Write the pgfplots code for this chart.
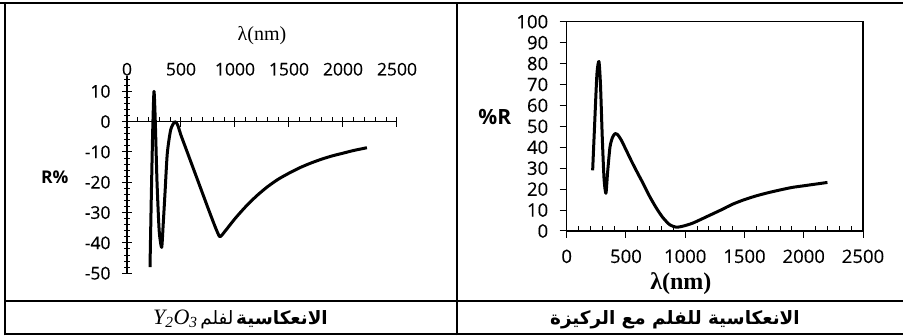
\documentclass[border=0pt]{standalone}
\usepackage{pgfplots}
\pgfplotsset{compat=1.18}
\usepackage{fontspec}
\setmainfont{Open Sans}
\newfontfamily\tnr{Liberation Serif}
\newfontfamily\arabicfont[Script=Arabic]{DejaVu Sans}
\newfontfamily\tickfam{Open Sans}[FakeBold=0.3]
\TeXXeTstate=1
\newcommand{\tickfont}{\tickfam\fontsize{17.5}{18}\selectfont}
\newcommand{\tickfontR}{\tickfam\fontsize{18.5}{19}\selectfont}
\begin{document}
\begin{tikzpicture}
\path[use as bounding box] (0pt,0pt) rectangle (903pt,336pt);
% table frame
\draw[line width=2pt] (0pt,333.3pt) -- (903pt,333.3pt);
\draw[line width=2pt] (5pt,0.5pt) -- (5pt,334.3pt);
\draw[line width=2pt] (457pt,0.5pt) -- (457pt,334.3pt);
\draw[line width=2pt] (4pt,35pt) -- (903pt,35pt);
\draw[line width=2pt] (4pt,1.5pt) -- (903pt,1.5pt);

% ---------- left chart: labels on top ----------
\begin{axis}[at={(127pt,62.8pt)}, anchor=south west, scale only axis,
  width=270pt, height=197pt, xmin=0, xmax=2500, ymin=-50, ymax=15,
  axis x line*=top, axis y line=none, x axis line style={draw=none},
  xtick={0,500,...,2500}, major tick length=0pt,
  xticklabel style={font=\tickfont, /pgf/number format/1000 sep={}},
  /pgf/number format/assume math mode=true,
  xticklabel shift=-3pt,
  xlabel={{\tnr λ(nm)}}, xlabel style={font=\fontsize{20}{22}\selectfont, yshift=11pt}]
\end{axis}

% ---------- left chart: lines and curve ----------
\begin{axis}[at={(127pt,62.8pt)}, anchor=south west, scale only axis,
  width=270pt, height=197pt, xmin=0, xmax=2500, ymin=-50, ymax=15,
  axis x line=middle, axis y line=left, axis line style={-, line width=1.3pt},
  hide obscured x ticks=false, hide obscured y ticks=false,
  xtick={0,500,...,2500}, xticklabels={,,,,,}, minor x tick num=4,
  ytick={-50,-40,...,10}, minor ytick={-50,-48,...,14},
  tick align=center, major tick length=10pt, minor tick length=5pt,
  minor x tick style={yshift=2.5pt},
  tick style={black, line width=1pt},
  yticklabel style={font=\tickfont}, yticklabel shift=8pt,
  /pgf/number format/assume math mode=true,
  ylabel={\bfseries R\%},
  every axis y label/.style={at={(rel axis cs:0,0.488)}, anchor=east, xshift=-55pt, font=\fontsize{17.5}{18}\selectfont},
  clip=false]
\addplot[black, line width=3pt, smooth, tension=0.4, line join=round] coordinates {
(213,-48) (225,-25) (238,-3) (250,10) (262,0) (278,-20) (298,-36) (321,-41.5)
(335,-34) (352,-23.5) (373,-10.5) (405,-2.6) (444,0) (470,-1.2)
(500,-4.5) (550,-9.3) (600,-14.1) (650,-18.9) (700,-23.7) (750,-28.5) (800,-33.2)
(835,-36.3) (861,-38) (900,-36.5) (1000,-32) (1100,-28) (1200,-24.5)
(1300,-21.5) (1400,-19) (1500,-17) (1600,-15.2) (1700,-13.7) (1800,-12.4)
(1900,-11.3) (2000,-10.4) (2100,-9.5) (2222,-8.6)
};
\end{axis}

% ---------- right chart ----------
\begin{axis}[at={(566.7pt,105pt)}, anchor=south west, scale only axis,
  width=296.3pt, height=209.3pt, xmin=0, xmax=2500, ymin=0, ymax=100,
  axis line style={line width=1.3pt},
  xtick={0,500,...,2500}, minor x tick num=4,
  ytick={0,10,...,100},
  tick pos=left, tick align=outside, major tick length=7pt, minor tick length=5pt,
  minor x tick style={yshift=5pt},
  tick style={black, line width=1pt},
  xticklabel style={font=\tickfontR, /pgf/number format/1000 sep={}},
  yticklabel style={font=\tickfontR},
  xticklabel shift=8pt, yticklabel shift=8pt,
  /pgf/number format/assume math mode=true,
  xlabel={{\tnr\bfseries λ(nm)}},
  xlabel style={font=\fontsize{24}{26}\selectfont, xshift=-34pt, yshift=-3pt},
  ylabel={\bfseries \%R},
  every axis y label/.style={at={(rel axis cs:0,0.545)}, anchor=east, xshift=-52pt, font=\fontsize{21}{22}\selectfont},
  clip=false]
\addplot[black, line width=3pt, smooth, tension=0.4, line join=round] coordinates {
(219,29) (235,50) (255,75) (272,81) (285,70) (300,45) (315,25) (331,18)
(345,28) (365,40) (385,44.5) (407,46.5) (430,46) (460,43.5) (503,38.5)
(550,33) (600,27.5) (644,22.8) (700,16.5) (756,11) (810,6.5) (869,3)
(925,1.8) (980,2.3) (1065,3.8) (1206,7.5) (1300,10) (1400,12.8) (1500,15)
(1600,16.8) (1700,18.3) (1800,19.6) (1900,20.8) (2000,21.6) (2100,22.4) (2200,23.2)
};
\end{axis}

% ---------- captions ----------
\node[anchor=base east, inner sep=0pt] at (328pt,11.3pt)
  {{\tnr\itshape\fontsize{22}{24}\selectfont Y\textsubscript{2}O\textsubscript{3}}\ %
   {\arabicfont\fontsize{18.4}{20}\selectfont\beginR لفلم\endR}\ %
   {\arabicfont\bfseries\fontsize{18.4}{20}\selectfont\beginR الانعكاسية\endR}};
\node[anchor=base east, inner sep=0pt] at (800pt,11.3pt)
  {\arabicfont\bfseries\fontsize{18.4}{20}\selectfont\beginR الانعكاسية للفلم مع الركيزة\endR};
\end{tikzpicture}
\end{document}
